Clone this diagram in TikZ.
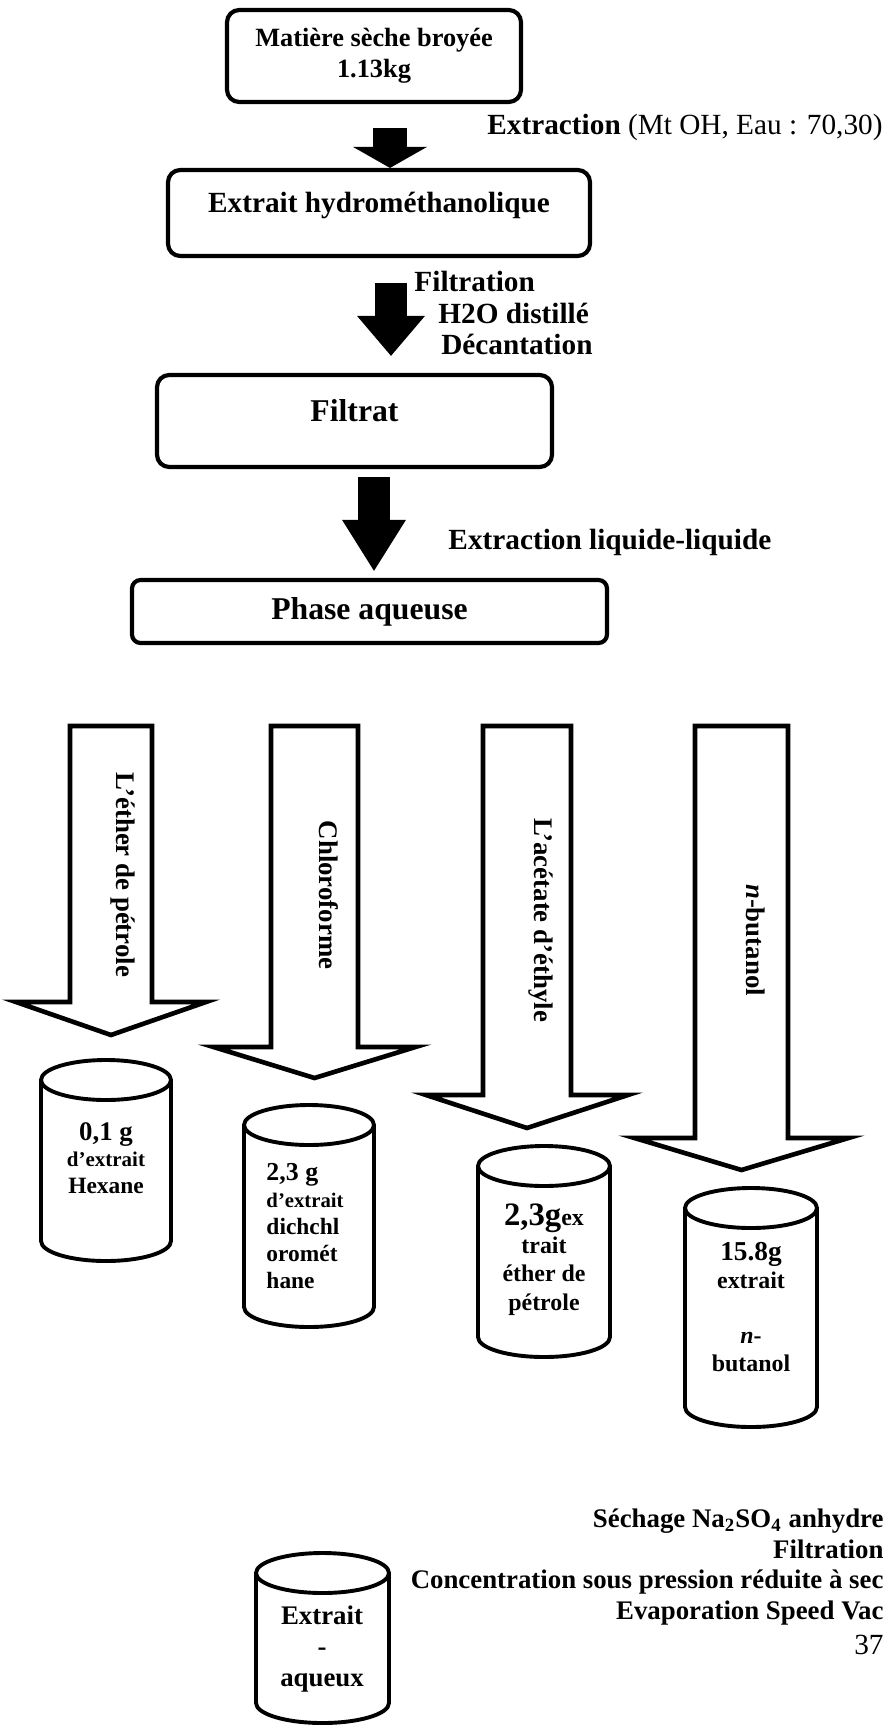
\documentclass[tikz,border=0pt]{standalone}
\usepackage{fontspec}
\setmainfont{Liberation Serif}
\usetikzlibrary{arrows.meta}
\newdimen\pxu \pxu=0.41pt

\begin{document}
\begin{tikzpicture}[
  x=0.41pt, y=-0.41pt,
  box/.style={draw, line width=1.7pt, rounded corners=5pt, align=center, inner sep=0pt},
  fat/.style n args={3}{line width=#1, -{Triangle[width=#2, length=#3, line width=0pt]}},
  hollow/.style={draw, line width=1.9pt, fill=white},
  tube/.style={draw, line width=1.6pt},
  lbl/.style={font=\bfseries, inner sep=0pt, align=center},
  solvent/.style={font=\fontsize{11}{13}\selectfont\bfseries, rotate=-90, inner sep=0pt}
]
\useasboundingbox (0,0) rectangle (892,1726);

% main sequence
\node[box, minimum width=294\pxu, minimum height=92\pxu, font=\fontsize{10.8}{12.7}\selectfont\bfseries] (b1) at (374,56) {Matière sèche broyée\\1.13kg};
\node[box, minimum width=422\pxu, minimum height=86\pxu, text height=8pt, text depth=8pt, font=\fontsize{12}{14}\selectfont\bfseries] (b2) at (379,213) {Extrait hydrométhanolique};
\node[box, minimum width=395\pxu, minimum height=92\pxu, text height=8.7pt, text depth=8.7pt, font=\fontsize{13}{15}\selectfont\bfseries] (b3) at (354.5,421) {Filtrat};
\node[box, rounded corners=3.5pt, minimum width=475\pxu, minimum height=63\pxu, font=\fontsize{13}{15}\selectfont\bfseries] (b4) at (369.5,611.5) {Phase aqueuse};

\node[lbl, anchor=east, font=\fontsize{12}{14}\selectfont] (ext1) at (883,127) {\textbf{Extraction} (Mt OH, Eau : 70,30)};
\node[lbl, anchor=north west, align=left, font=\fontsize{12}{12.9}\selectfont\bfseries] (filt) at (414,271) {Filtration\\\hspace*{9.8pt}H2O distillé\\\hspace*{11pt}Décantation};
\node[lbl, anchor=west, font=\fontsize{12}{14}\selectfont\bfseries] (ext2) at (448,542) {Extraction liquide-liquide};

\coordinate (f1) at (390,128);
\coordinate (f2) at (391,283);
\coordinate (f3) at (374,477);
\draw[fat={13.9pt}{30.3pt}{8.6pt}] (f1) -- (f1 |- b2.north);
\draw[fat={13.5pt}{27.9pt}{16.4pt}, shorten >=7pt] (f2) -- (f2 |- b3.north);
\draw[fat={13.5pt}{26.2pt}{20.9pt}, shorten >=2.9pt] (f3) -- (f3 |- b4.north);

% solvents
\foreach \l/\r/\b/\w/\t in {70/152/1002/95/1035, 271/358/1047/101/1078, 483/571/1095/101/1128, 695/788/1138/107/1170}
  \draw[hollow] (\l,726) -- (\l,\b) -- ({(\l+\r)/2-\w},\b) -- ({(\l+\r)/2},\t) -- ({(\l+\r)/2+\w},\b) -- (\r,\b) -- (\r,726) -- cycle;
\node[solvent] (sA) at (123,875) {L’éther de pétrole};
\node[solvent] (sB) at (329,895) {Chloroforme};
\node[solvent] (sC) at (541,920) {L’acétate d’éthyle};
\node[solvent] (sD) at (756,940) {\textit{n}-butanol};

% extracts
\foreach \l/\r/\tp/\bt in {41/171/1080/1241, 244/374/1125/1307, 478/610/1166/1337, 685/817/1208/1407, 256/389/1573/1703} {
  \draw[tube] ({(\l+\r)/2},\tp) ellipse [x radius={(\r-\l)/2}, y radius=20];
  \draw[tube] (\l,\tp) -- (\l,\bt) arc [start angle=180, end angle=0, x radius={(\r-\l)/2}, y radius=20] -- (\r,\tp);
}
\node[lbl, font=\fontsize{9.6}{10.9}\selectfont\bfseries] (c1) at (106,1158) {{\fontsize{11}{10.9}\selectfont 0,1 g}\\{\fontsize{8.6}{10.9}\selectfont d’extrait}\\Hexane};
\node[lbl, anchor=west, align=left, font=\fontsize{9.6}{11.1}\selectfont\bfseries] (c2) at (266,1226) {{\fontsize{10.6}{11.1}\selectfont 2,3 g}\\{\fontsize{8.5}{11.1}\selectfont d’extrait}\\dichchl\\oromét\\hane};
\node[lbl, font=\fontsize{9.8}{11.6}\selectfont\bfseries] (c3) at (544,1259.5) {{\fontsize{13.4}{11.6}\selectfont 2,3g}ex\\trait\\éther de\\pétrole};
\node[lbl, font=\fontsize{9.8}{11.3}\selectfont\bfseries] (c4) at (751,1307) {{\fontsize{11.2}{11.3}\selectfont 15.8g}\\extrait\\[11.3pt]\textit{n}-\\butanol};
\node[lbl, font=\fontsize{11}{12.7}\selectfont\bfseries] (c5) at (322,1649) {Extrait\\-\\aqueux};

\node[lbl, anchor=east, align=right, font=\fontsize{11}{12.6}\selectfont\bfseries] (dry) at (884,1567) {Séchage Na\textsubscript{2}SO\textsubscript{4} anhydre\\Filtration\\Concentration sous pression réduite à sec\\Evaporation Speed Vac};
\node[lbl, anchor=east, font=\fontsize{12}{14}\selectfont] (pg) at (884,1645) {37};
\end{tikzpicture}
\end{document}
